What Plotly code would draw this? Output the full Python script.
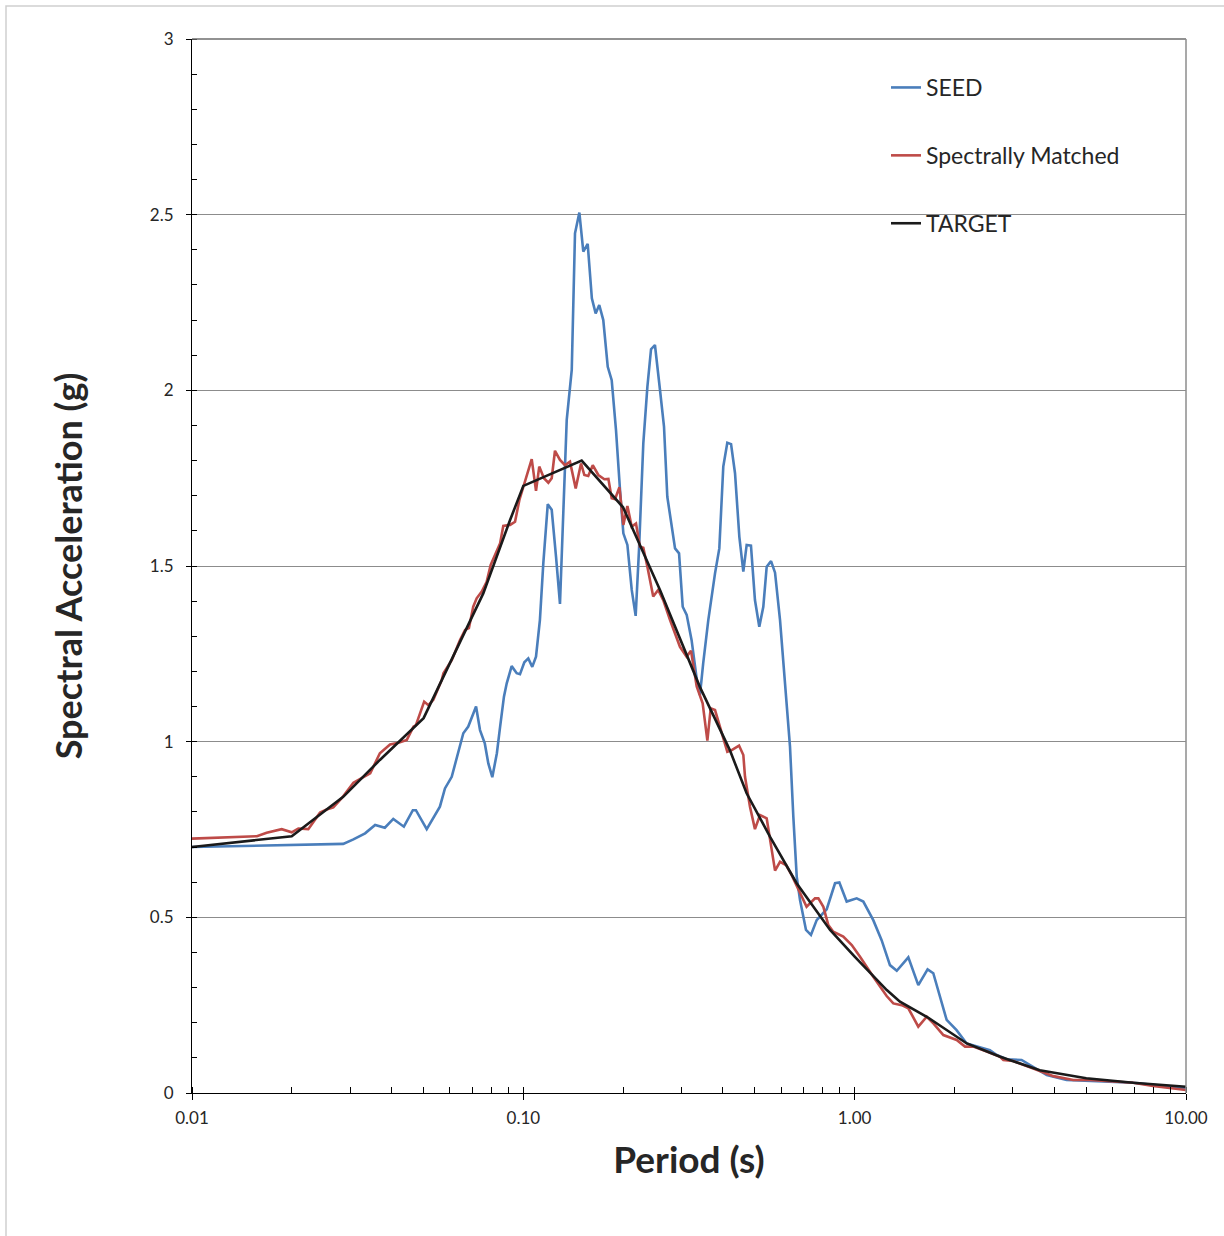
import plotly.graph_objects as go

# ---------------- data (period in s, spectral acceleration in g) ----------------
seed_points = [
    (0.01, 0.70), (0.0286, 0.709), (0.0307, 0.722), (0.0333, 0.739), (0.0357, 0.763),
    (0.0382, 0.755), (0.0405, 0.78), (0.0436, 0.758), (0.0464, 0.805), (0.0474, 0.805),
    (0.0511, 0.751), (0.0535, 0.782), (0.056, 0.815), (0.058, 0.867), (0.0608, 0.9),
    (0.0659, 1.024), (0.0682, 1.043), (0.072, 1.10), (0.074, 1.033), (0.0765, 0.995),
    (0.0784, 0.938), (0.0806, 0.899), (0.0832, 0.967), (0.0851, 1.043), (0.0874, 1.128),
    (0.0891, 1.166), (0.0922, 1.215), (0.0955, 1.195), (0.0977, 1.192), (0.1007, 1.226),
    (0.1035, 1.237), (0.1064, 1.213), (0.1092, 1.242), (0.1122, 1.346), (0.1149, 1.508),
    (0.1185, 1.676), (0.1218, 1.66), (0.1255, 1.527), (0.129, 1.392), (0.132, 1.65),
    (0.1352, 1.916), (0.14, 2.058), (0.1432, 2.447), (0.1476, 2.506), (0.1517, 2.395),
    (0.1564, 2.417), (0.161, 2.262), (0.1653, 2.219), (0.1695, 2.243), (0.1743, 2.2),
    (0.1798, 2.067), (0.1848, 2.029), (0.1904, 1.887), (0.1958, 1.716), (0.2004, 1.593),
    (0.2061, 1.56), (0.2124, 1.432), (0.2183, 1.358), (0.2234, 1.546), (0.2302, 1.849),
    (0.2368, 2.01), (0.2429, 2.117), (0.2496, 2.129), (0.2585, 2.001), (0.2658, 1.897),
    (0.272, 1.697), (0.2804, 1.621), (0.287, 1.55), (0.2951, 1.536), (0.3027, 1.384),
    (0.3112, 1.361), (0.322, 1.289), (0.335, 1.166), (0.3413, 1.133), (0.349, 1.223),
    (0.3616, 1.346), (0.3789, 1.479), (0.3904, 1.55), (0.4013, 1.783), (0.4127, 1.851),
    (0.4236, 1.847), (0.4354, 1.764), (0.4487, 1.583), (0.4613, 1.484), (0.4721, 1.56),
    (0.4864, 1.558), (0.5001, 1.403), (0.5154, 1.327), (0.53, 1.384), (0.5426, 1.498),
    (0.5593, 1.514), (0.575, 1.481), (0.5953, 1.346), (0.616, 1.176), (0.638, 0.986),
    (0.653, 0.786), (0.6685, 0.616), (0.684, 0.549), (0.713, 0.464), (0.738, 0.45),
    (0.768, 0.492), (0.8235, 0.523), (0.8725, 0.597), (0.899, 0.599), (0.946, 0.545),
    (1.014, 0.554), (1.062, 0.545), (1.138, 0.492), (1.206, 0.435), (1.278, 0.364),
    (1.34, 0.348), (1.452, 0.386), (1.556, 0.307), (1.66, 0.352), (1.727, 0.341),
    (1.895, 0.208), (2.03, 0.179), (2.178, 0.141), (2.56, 0.122), (2.684, 0.108),
    (2.876, 0.096), (3.19, 0.094), (3.46, 0.075), (3.8, 0.051), (4.36, 0.037),
    (5.0, 0.035), (6.93, 0.029), (10.0, 0.013),
]

matched_points = [
    (0.01, 0.724), (0.0157, 0.731), (0.0168, 0.741), (0.01865, 0.751), (0.02, 0.742),
    (0.02094, 0.753), (0.02244, 0.751), (0.02434, 0.798), (0.0255, 0.807), (0.0267, 0.813),
    (0.0283, 0.839), (0.0307, 0.883), (0.0325, 0.896), (0.0345, 0.91), (0.0369, 0.967),
    (0.0396, 0.992), (0.042, 0.997), (0.0445, 1.005), (0.0466, 1.043), (0.0474, 1.047),
    (0.0502, 1.114), (0.0517, 1.104), (0.0535, 1.119), (0.0567, 1.175), (0.0574, 1.195),
    (0.0608, 1.232), (0.0644, 1.289), (0.0667, 1.318), (0.0685, 1.323), (0.0706, 1.384),
    (0.0723, 1.408), (0.0749, 1.427), (0.0775, 1.455), (0.0797, 1.503), (0.0851, 1.565),
    (0.087, 1.614), (0.0912, 1.617), (0.0944, 1.626), (0.0973, 1.688), (0.1, 1.726),
    (0.1035, 1.768), (0.106, 1.804), (0.1092, 1.714), (0.1117, 1.783), (0.1154, 1.75),
    (0.119, 1.737), (0.1218, 1.75), (0.1246, 1.828), (0.129, 1.802), (0.1336, 1.787),
    (0.1383, 1.797), (0.1439, 1.721), (0.1493, 1.792), (0.1528, 1.759), (0.157, 1.756),
    (0.162, 1.787), (0.1684, 1.759), (0.1756, 1.747), (0.1806, 1.748), (0.1848, 1.693),
    (0.1891, 1.69), (0.195, 1.724), (0.2004, 1.617), (0.2061, 1.671), (0.2124, 1.612),
    (0.2188, 1.621), (0.2249, 1.555), (0.2302, 1.552), (0.2368, 1.498), (0.2466, 1.413),
    (0.2553, 1.432), (0.2644, 1.403), (0.2772, 1.346), (0.297, 1.27), (0.311, 1.242),
    (0.3206, 1.259), (0.3336, 1.157), (0.3477, 1.109), (0.3593, 1.003), (0.3677, 1.095),
    (0.3789, 1.09), (0.3924, 1.043), (0.4127, 0.971), (0.4256, 0.976), (0.4477, 0.989),
    (0.4613, 0.962), (0.4667, 0.9), (0.4831, 0.815), (0.5001, 0.751), (0.518, 0.791),
    (0.5426, 0.782), (0.5619, 0.692), (0.575, 0.633), (0.5953, 0.658), (0.6205, 0.649),
    (0.6456, 0.62), (0.684, 0.568), (0.716, 0.53), (0.759, 0.554), (0.777, 0.554),
    (0.8045, 0.53), (0.8327, 0.478), (0.862, 0.459), (0.924, 0.445), (0.98, 0.421),
    (1.038, 0.388), (1.138, 0.331), (1.249, 0.276), (1.308, 0.255), (1.387, 0.25),
    (1.452, 0.241), (1.556, 0.189), (1.65, 0.217), (1.728, 0.198), (1.852, 0.165),
    (2.032, 0.151), (2.153, 0.132), (2.28, 0.132), (2.504, 0.118), (2.746, 0.103),
    (2.81, 0.094), (3.01, 0.091), (3.46, 0.070), (3.98, 0.048), (4.57, 0.037),
    (5.13, 0.037), (6.93, 0.029), (7.95, 0.02), (10.0, 0.0085),
]

target_points = [
    (0.01, 0.70), (0.02, 0.731), (0.0286, 0.843), (0.0369, 0.948), (0.05, 1.067),
    (0.06, 1.223), (0.0757, 1.422), (0.0912, 1.631), (0.1, 1.728), (0.15, 1.80),
    (0.2, 1.667), (0.2585, 1.432), (0.341, 1.156), (0.42, 0.976), (0.472, 0.853),
    (0.555, 0.73), (0.668, 0.597), (0.843, 0.464), (1.0, 0.388), (1.25, 0.293),
    (1.37, 0.26), (1.65, 0.217), (2.18, 0.141), (2.75, 0.103), (3.62, 0.065),
    (5.0, 0.042), (6.93, 0.029), (10.0, 0.018),
]

series_names = ["SEED", "Spectrally Matched", "TARGET"]
series_colors = ["#4a7ebb", "#be4b48", "#1a1a1a"]
x_tick_vals = [0.01, 0.1, 1, 10]
x_tick_text = ["0.01", "0.10", "1.00", "10.00"]
y_tick_vals = [0, 0.5, 1, 1.5, 2, 2.5, 3]
y_tick_text = ["0", "0.5", "1", "1.5", "2", "2.5", "3"]

FONT = "Lato, 'Open Sans', sans-serif"

fig = go.Figure()
for i, (name, pts, col) in enumerate(zip(series_names,
                                          [seed_points, matched_points, target_points],
                                          series_colors)):
    xs = [p[0] for p in pts]
    ys = [p[1] for p in pts]
    fig.add_trace(go.Scatter(x=xs, y=ys, mode="lines", name=name,
                             legendgroup=name,
                             line=dict(color=col, width=2.6)))

W, H = 1224, 1236
L, R, T, B = 192, 38, 39, 143
pw, ph = W - L - R, H - T - B

fig.update_layout(
    width=W, height=H,
    margin=dict(l=L, r=R, t=T, b=B),
    paper_bgcolor="white", plot_bgcolor="white",
    font=dict(family=FONT, color="#262626"),
    showlegend=True,
    legend=dict(x=(886 - L) / pw, y=(1093 - 66) / ph, xanchor="left", yanchor="top",
                font=dict(size=23, family=FONT, color="#262626"),
                bgcolor="rgba(0,0,0,0)", tracegroupgap=35,
                itemwidth=30),
    xaxis=dict(
        type="log", range=[-2, 1],
        tickmode="array", tickvals=x_tick_vals, ticktext=x_tick_text,
        ticks="outside", ticklen=6, tickcolor="black", tickwidth=1,
        tickfont=dict(size=17, family=FONT, color="#262626"),
        ticklabelstandoff=3,
        showline=True, linecolor="black", linewidth=1.2,
        showgrid=False, zeroline=False,
        minor=dict(ticks="inside", ticklen=6, tickcolor="black", dtick="D1",
                   showgrid=False),
        title=dict(text="<b>Period (s)</b>", font=dict(size=37, family=FONT, color="#262626"),
                   standoff=20),
    ),
    yaxis=dict(
        range=[0, 3],
        tickmode="array", tickvals=y_tick_vals, ticktext=y_tick_text,
        ticks="outside", ticklen=5, tickcolor="black", tickwidth=1,
        tickfont=dict(size=17, family=FONT, color="#262626"),
        ticklabelstandoff=9,
        showline=True, linecolor="black", linewidth=1.2,
        showgrid=True, gridcolor="#8c8c8c", gridwidth=1, zeroline=False,
        minor=dict(ticks="inside", ticklen=5, tickcolor="black", dtick=0.1,
                   showgrid=False),
        title=dict(text="<b>Spectral Acceleration (g)</b>",
                   font=dict(size=36, family=FONT, color="#262626"), standoff=56),
    ),
)

# plot-area top and right borders, and outer chart border
fig.add_shape(type="line", xref="paper", yref="paper", x0=0, x1=1, y0=1, y1=1,
              line=dict(color="#6e6e6e", width=1.5), layer="above")
fig.add_shape(type="line", xref="paper", yref="paper", x0=1, x1=1, y0=0, y1=1,
              line=dict(color="#8c8c8c", width=1.5), layer="above")
fig.add_shape(type="rect", xref="paper", yref="paper",
              x0=(6 - L) / pw, x1=(1240 - L) / pw,
              y0=(1093 - 1250) / ph, y1=(1093 - 6) / ph,
              line=dict(color="#cfcfcf", width=1.5), fillcolor="rgba(0,0,0,0)",
              layer="below")

fig.write_html("out.html", config={"displayModeBar": False},
               post_script="document.body.style.margin='0';")
